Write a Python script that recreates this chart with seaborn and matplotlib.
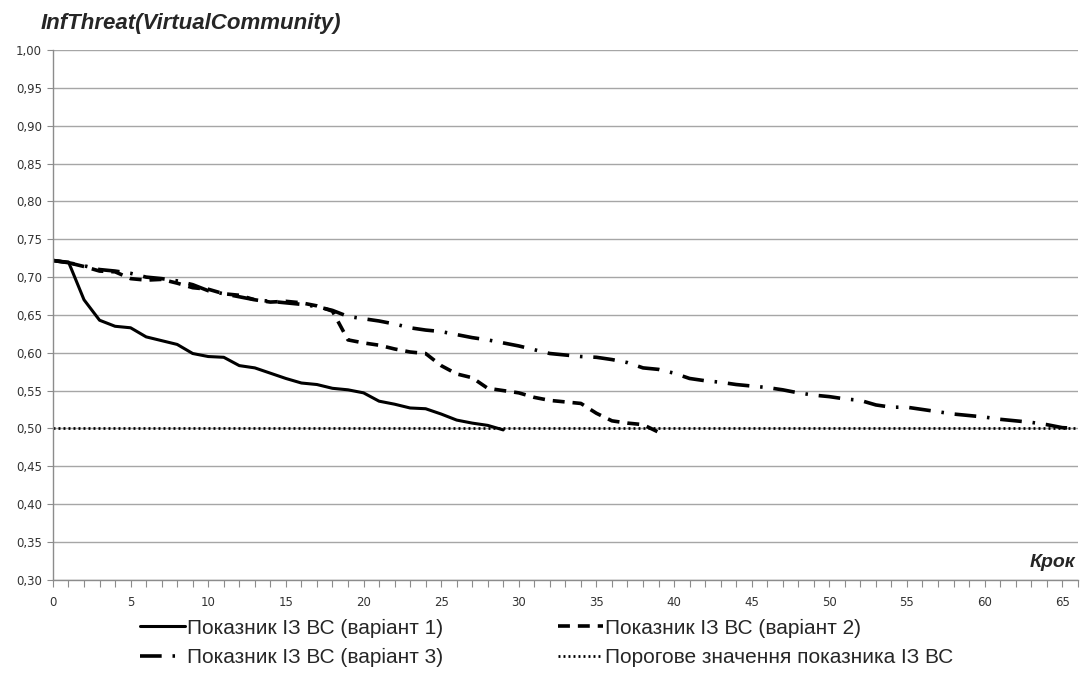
import numpy as np
import pandas as pd
import seaborn as sns
import matplotlib.pyplot as plt
from matplotlib.ticker import MultipleLocator, FuncFormatter

# values
steps_v1 = list(range(0, 30))
threat_v1 = [0.722, 0.720, 0.670, 0.643, 0.635, 0.633, 0.621, 0.616, 0.611, 0.599,
             0.595, 0.594, 0.583, 0.580, 0.573, 0.566, 0.560, 0.558, 0.553, 0.551,
             0.547, 0.536, 0.532, 0.527, 0.526, 0.519, 0.511, 0.507, 0.504, 0.498]

steps_v2 = list(range(0, 40))
threat_v2 = [0.722, 0.719, 0.714, 0.708, 0.707, 0.698, 0.696, 0.697, 0.692, 0.686,
             0.684, 0.678, 0.676, 0.670, 0.667, 0.668, 0.666, 0.662, 0.655, 0.617,
             0.613, 0.610, 0.605, 0.601, 0.599, 0.583, 0.572, 0.567, 0.553, 0.550,
             0.547, 0.541, 0.537, 0.535, 0.533, 0.520, 0.510, 0.507, 0.505, 0.495]

steps_v3 = list(range(0, 67))
threat_v3 = [0.722, 0.719, 0.715, 0.710, 0.708, 0.705, 0.700, 0.698, 0.695, 0.690,
             0.682, 0.678, 0.674, 0.670, 0.668, 0.666, 0.664, 0.661, 0.656, 0.648,
             0.645, 0.642, 0.638, 0.633, 0.630, 0.628, 0.624, 0.620, 0.617, 0.613,
             0.609, 0.604, 0.599, 0.597, 0.595, 0.594, 0.591, 0.587, 0.580, 0.578,
             0.573, 0.566, 0.563, 0.561, 0.558, 0.556, 0.554, 0.551, 0.547, 0.544,
             0.542, 0.539, 0.537, 0.531, 0.528, 0.528, 0.525, 0.522, 0.519, 0.517,
             0.515, 0.512, 0.510, 0.508, 0.505, 0.501, 0.500]

steps_thr = [0, 66]
threshold = [0.50, 0.50]

labels = ["Показник ІЗ ВС (варіант 1)", "Показник ІЗ ВС (варіант 2)",
          "Показник ІЗ ВС (варіант 3)", "Порогове значення показника ІЗ ВС"]

sns.set_style("white")
plt.rcParams["font.family"] = ["DejaVu Sans"]

fig = plt.figure(figsize=(10.81, 6.78), dpi=100)
ax = fig.add_axes([0.049, 0.145, 0.948, 0.781])

sns.lineplot(x=steps_v1, y=threat_v1, ax=ax, color="black", lw=2.2,
             label=labels[0])
sns.lineplot(x=steps_v2, y=threat_v2, ax=ax, color="black", lw=2.6,
             label=labels[1])
sns.lineplot(x=steps_v3, y=threat_v3, ax=ax, color="black", lw=2.6,
             label=labels[2])
sns.lineplot(x=steps_thr, y=threshold, ax=ax, color="black", lw=2.0,
             label=labels[3])

lines = ax.get_lines()
lines[1].set_dashes([3.3, 2.2])
lines[2].set_dashes([6, 3, 0.7, 3])
lines[3].set_dashes([0.7, 1.1])

ax.set_xlim(0, 66)
ax.set_ylim(0.30, 1.00)
ax.yaxis.set_major_locator(MultipleLocator(0.05))
ax.xaxis.set_major_locator(MultipleLocator(5))
ax.xaxis.set_minor_locator(MultipleLocator(1))
ax.yaxis.set_major_formatter(FuncFormatter(lambda v, p: f"{v:.2f}".replace(".", ",")))
ax.grid(axis="y", color="#a6a6a6", lw=1.0)
ax.set_axisbelow(True)

for s in ["top", "right"]:
    ax.spines[s].set_visible(False)
for s in ["left", "bottom"]:
    ax.spines[s].set_color("#8c8c8c")
    ax.spines[s].set_linewidth(1.0)

ax.tick_params(axis="both", which="both", direction="out", color="#8c8c8c",
               labelsize=8.5, labelcolor="#333333", bottom=True, left=True)
ax.tick_params(axis="x", which="both", length=5, width=0.8, pad=7)
ax.tick_params(axis="y", length=4, width=0.8, pad=4)
ax.set_xlabel("")
ax.set_ylabel("")

fig.text(0.038, 0.966, "InfThreat(VirtualCommunity)", fontsize=16,
         fontweight="bold", fontstyle="italic", family=["Liberation Sans"],
         va="center", ha="left")
fig.text(0.995, 0.171, "Крок", fontsize=14, fontweight="bold",
         fontstyle="italic", family=["Liberation Sans"], va="center", ha="right")

ax.get_legend().remove()
order = [0, 2, 1, 3]
fig.legend([lines[i] for i in order], [labels[i] for i in order],
           loc="upper left", bbox_to_anchor=(0.122, 0.100), ncol=2,
           frameon=False, handlelength=2.15, handletextpad=0.1,
           columnspacing=5.5, labelspacing=0.5, borderaxespad=0,
           prop={"family": ["Liberation Sans"], "size": 15})

fig.savefig("out.png", dpi=100)
